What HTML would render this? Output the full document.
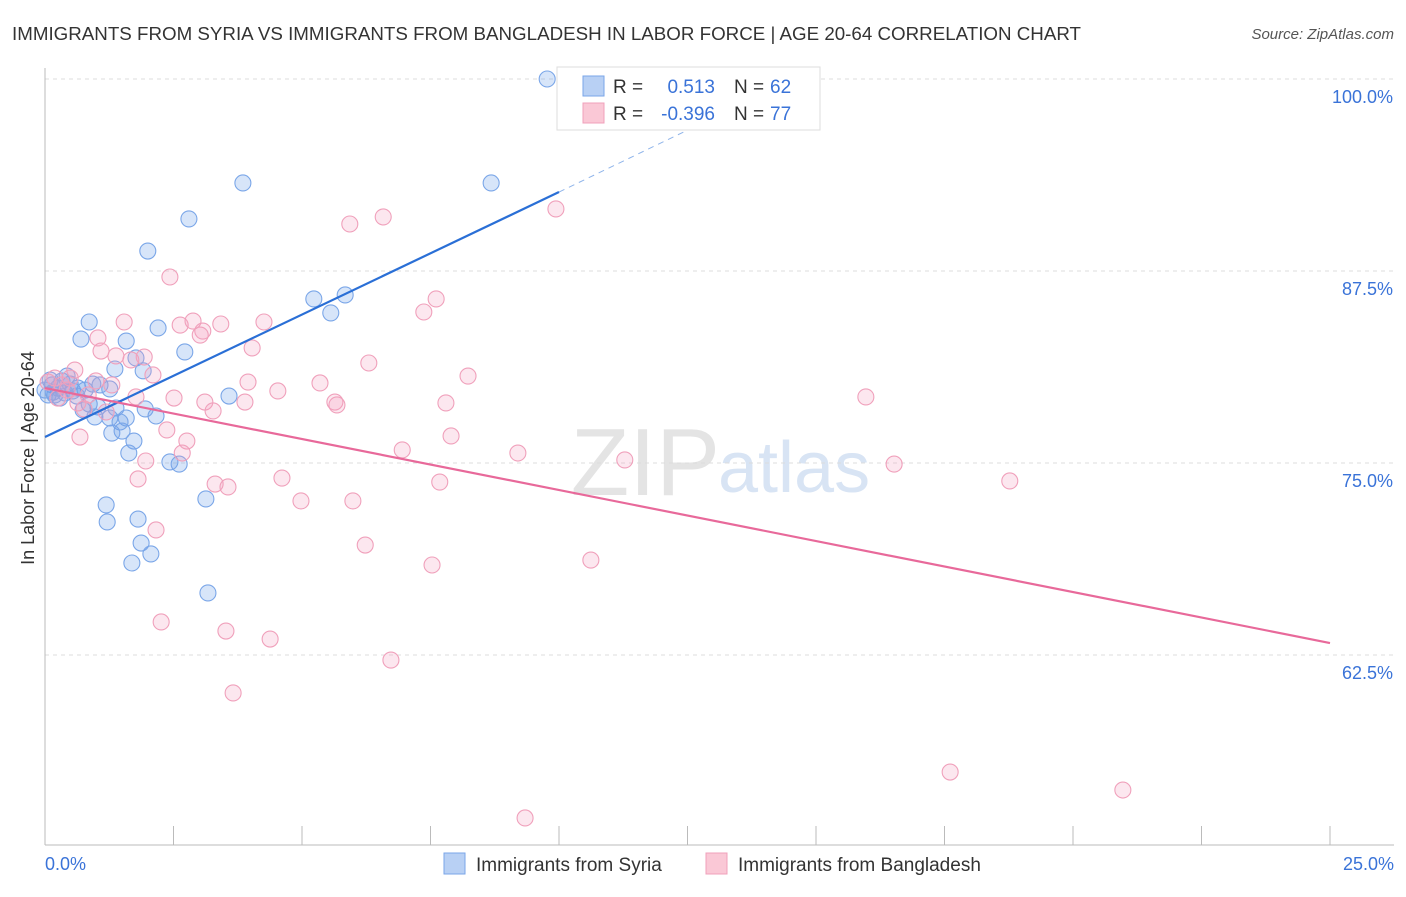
<!DOCTYPE html>
<html><head><meta charset="utf-8"><style>
body{margin:0;background:#fff;font-family:"Liberation Sans",sans-serif}
svg text{font-family:"Liberation Sans",sans-serif}
</style></head><body>
<svg id="chart" width="1406" height="892">
<text x="12" y="40" font-size="18" fill="#333" textLength="1069" lengthAdjust="spacingAndGlyphs">IMMIGRANTS FROM SYRIA VS IMMIGRANTS FROM BANGLADESH IN LABOR FORCE | AGE 20-64 CORRELATION CHART</text>
<text x="1394" y="39" font-size="15" fill="#555" font-style="italic" text-anchor="end">Source: ZipAtlas.com</text>
<text x="720" y="495" font-size="96" fill="#e4e4e4" text-anchor="end" font-family="Liberation Serif">ZIP</text>
<text x="718" y="492" font-size="72" fill="#d8e4f4">atlas</text>
<g id="grid"></g><g id="pts"></g><g id="lines"></g>
<text transform="translate(34,458) rotate(-90)" font-size="18" fill="#333" text-anchor="middle">In Labor Force | Age 20-64</text>
<text x="45" y="870" font-size="18" fill="#3a73d8">0.0%</text>
<text x="1394" y="870" font-size="18" fill="#3a73d8" text-anchor="end">25.0%</text>
<g>
<rect x="557" y="67" width="263" height="63" fill="#fff" stroke="#ddd"/>
<rect x="583" y="76" width="21" height="20" fill="#b8d0f4" stroke="#7aa6e8"/>
<rect x="583" y="103" width="21" height="20" fill="#fac8d6" stroke="#f0a0bb"/>
<text x="613" y="93" font-size="19" fill="#333">R = </text><text x="715" y="93" font-size="19" fill="#3a73d8" text-anchor="end">0.513</text>
<text x="734" y="93" font-size="19" fill="#333">N = </text><text x="770" y="93" font-size="19" fill="#3a73d8">62</text>
<text x="613" y="120" font-size="19" fill="#333">R = </text><text x="715" y="120" font-size="19" fill="#3a73d8" text-anchor="end">-0.396</text>
<text x="734" y="120" font-size="19" fill="#333">N = </text><text x="770" y="120" font-size="19" fill="#3a73d8">77</text>
</g>
<g><rect x="444" y="853" width="21" height="21" fill="#b8d0f4" stroke="#7aa6e8"/><text x="476" y="871" font-size="19" fill="#333">Immigrants from Syria</text></g>
<g><rect x="706" y="853" width="21" height="21" fill="#fac8d6" stroke="#f0a0bb"/><text x="738" y="871" font-size="19" fill="#333">Immigrants from Bangladesh</text></g>
</svg>
<script>
const yTicks=[100,87.5,75,62.5];
const yTickLabels=["100.0%","87.5%","75.0%","62.5%"];
const syriaX=[9.77,8.68,3.85,2.80,2.00,5.23,5.84,5.56,0.86,2.20,0.70,1.58,2.72,1.77,1.36,1.91,3.58,0.93,0.43,0.33,0.14,0.19,0.29,0.54,0.78,1.07,1.26,0.62,0.86,1.03,1.38,1.95,0.74,0.97,1.26,1.58,1.46,2.16,1.50,1.30,1.73,1.63,2.43,2.61,3.13,1.19,1.81,1.21,1.87,2.06,1.69,3.17,0.10,0.06,0.25,0.49,0.64,0.00,0.16,0.39];
const syriaY=[100,93.23,93.23,90.89,88.80,85.68,85.94,84.77,84.18,83.79,83.07,82.94,82.23,81.84,81.12,81.0,79.36,80.14,80.66,80.34,80.08,79.43,79.23,79.69,79.75,80.08,79.82,79.36,78.84,78.65,78.58,78.52,78.45,78.0,77.93,77.93,77.67,78.06,77.08,76.95,76.43,75.65,75.07,74.93,72.66,72.27,71.35,71.16,69.79,69.08,68.49,66.54,80.4,79.43,79.88,80.14,79.88,79.75,79.62,79.56];
const bangX=[9.94,6.58,5.93,2.43,7.61,7.37,1.54,2.63,2.88,3.42,4.26,3.07,1.03,3.02,1.09,4.03,1.38,1.93,1.67,6.30,2.10,0.58,8.23,1.30,5.35,3.95,4.53,1.77,2.51,3.11,3.89,5.64,5.68,7.80,15.97,3.27,0.76,1.19,2.37,7.90,0.68,2.76,6.95,9.20,11.28,16.52,1.96,2.67,1.81,4.61,3.31,3.56,7.68,18.77,4.98,5.99,2.16,6.23,7.53,10.62,2.26,3.52,4.38,6.73,3.66,17.61,20.97,9.34,0.19,0.33,0.49,0.06,0.25,0.84,0.43,0.99,0.64];
const bangY=[91.54,91.02,90.56,87.11,85.68,84.83,84.18,83.98,84.24,84.05,84.18,83.59,83.14,83.33,82.29,82.49,81.97,81.90,81.71,81.51,80.73,81.05,80.66,80.08,80.21,80.27,79.69,79.30,79.23,78.97,78.97,78.97,78.78,78.91,79.30,78.39,78.52,78.32,77.15,76.76,76.69,76.43,75.85,75.65,75.20,74.93,75.13,75.65,73.96,74.02,73.63,73.44,73.76,73.83,72.53,72.53,70.64,69.66,68.36,68.68,64.65,64.06,63.54,62.17,60.03,54.88,53.71,51.89,80.53,80.08,80.53,80.27,79.23,79.43,79.75,80.34,78.91];
const syriaTrendX=[0,10,13.2];
const syriaTrendY=[76.69,92.64,97.8];
const bangTrendX=[0,25];
const bangTrendY=[79.88,63.28];
const NS="http://www.w3.org/2000/svg";
const sx=v=>45+v*51.4;
const sy=v=>79+(100-v)*15.36;
function mk(tag,a,p){const e=document.createElementNS(NS,tag);for(const k in a)e.setAttribute(k,a[k]);p.appendChild(e);return e;}
const grid=document.getElementById('grid');
yTicks.forEach((t,i)=>{
 const l=mk('line',{x1:45,x2:1394,y1:sy(t),y2:sy(t),stroke:'#ddd','stroke-dasharray':'4,4'},grid);
 
 
 const tx=mk('text',{x:1393,y:sy(t)+24,'font-size':18,fill:'#3a73d8','text-anchor':'end'},grid);
 tx.textContent=yTickLabels[i];
 
 
});
const ax=mk('line',{x1:45,x2:45,y1:68,y2:845,stroke:'#bbb'},grid);


const bx=mk('line',{x1:45,x2:1394,y1:845,y2:845,stroke:'#bbb'},grid);


for(let i=0;i<=10;i++){const t=mk('line',{x1:sx(i*2.5),x2:sx(i*2.5),y1:826,y2:845,stroke:'#bbb'},grid);
 
 }
const pts=document.getElementById('pts');
syriaX.forEach((x,i)=>{const c=mk('circle',{cx:sx(x),cy:sy(syriaY[i]),r:8,fill:'rgba(110,160,235,0.28)',stroke:'#7aa6e8','stroke-width':1.1},pts);
 
 });
bangX.forEach((x,i)=>{const c=mk('circle',{cx:sx(x),cy:sy(bangY[i]),r:8,fill:'rgba(245,160,190,0.25)',stroke:'#f0a0bb','stroke-width':1.1},pts);
 
 });
const lines=document.getElementById('lines');
const l1=mk('line',{x1:sx(syriaTrendX[0]),y1:sy(syriaTrendY[0]),x2:sx(syriaTrendX[1]),y2:sy(syriaTrendY[1]),stroke:'#2a6fd6','stroke-width':2.2},lines);


const l2=mk('line',{x1:sx(syriaTrendX[1]),y1:sy(syriaTrendY[1]),x2:sx(syriaTrendX[2]),y2:sy(syriaTrendY[2]),stroke:'#8fb4ea','stroke-width':1,'stroke-dasharray':'6,5'},lines);


const l3=mk('line',{x1:sx(bangTrendX[0]),y1:sy(bangTrendY[0]),x2:sx(bangTrendX[1]),y2:sy(bangTrendY[1]),stroke:'#e8699a','stroke-width':2.2},lines);


</script>
</body></html>
